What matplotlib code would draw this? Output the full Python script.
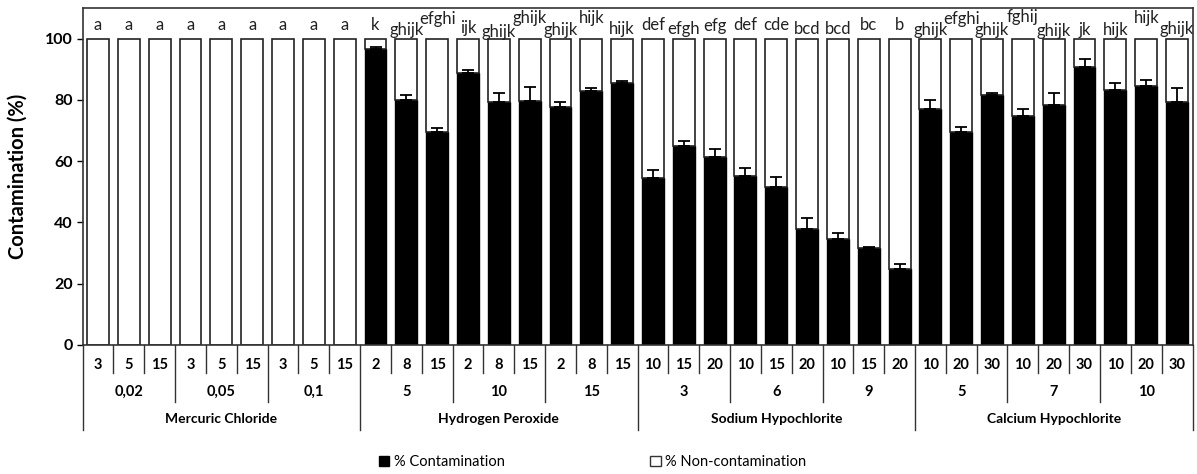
import numpy as np
import matplotlib
matplotlib.use("Agg")
import matplotlib.pyplot as plt
from matplotlib.patches import Patch

plt.rcParams['font.family'] = ['Lato', 'DejaVu Sans']

# data
contam = [0, 0, 0, 0, 0, 0, 0, 0, 0,
          96.6, 80.0, 69.5, 88.8, 79.3, 79.7, 77.7, 82.8, 85.4,
          54.5, 65.1, 61.3, 55.3, 51.5, 38.0, 34.7, 31.6, 24.7,
          77.0, 69.4, 81.6, 74.7, 78.5, 90.7, 83.1, 84.6, 79.3]
err = [0, 0, 0, 0, 0, 0, 0, 0, 0,
       0.7, 1.6, 1.4, 1.1, 3.1, 4.5, 1.5, 1.0, 0.8,
       2.6, 1.5, 2.7, 2.5, 3.3, 3.4, 1.8, 0.5, 1.8,
       3.1, 1.7, 0.8, 2.3, 3.9, 2.5, 2.3, 1.9, 4.5]
letters = ["a"] * 9 + ["k", "ghijk", "efghi", "ijk", "ghijk", "ghijk", "ghijk", "hijk", "hijk",
                       "def", "efgh", "efg", "def", "cde", "bcd", "bcd", "bc", "b",
                       "ghijk", "efghi", "ghijk", "fghij", "ghijk", "jk", "hijk", "hijk", "ghijk"]
times = ["3", "5", "15"] * 3 + ["2", "8", "15"] * 3 + ["10", "15", "20"] * 3 + ["10", "20", "30"] * 3
concs = ["0,02", "0,05", "0,1", "5", "10", "15", "3", "6", "9", "5", "7", "10"]
agents = ["Mercuric Chloride", "Hydrogen Peroxide", "Sodium Hypochlorite", "Calcium Hypochlorite"]

# letter heights (staggered to avoid overlaps)
letter_y = [104.6] * 9 + [104.6, 102.9, 106.5, 103.6, 102.3, 106.9, 102.9, 106.9, 103.3,
                          104.6, 103.3, 104.2, 104.6, 104.6, 103.3, 103.3, 104.6, 104.6,
                          102.9, 106.5, 102.9, 107.2, 102.6, 102.9, 102.9, 106.9, 103.3]

n = len(contam)
x = np.arange(n)
contam = np.array(contam)
non = 100 - contam

fig = plt.figure(figsize=(11.97, 4.74), dpi=100)
ax = fig.add_axes([0.0693, 0.2722, 0.9274, 0.7109])

ax.bar(x, contam, width=0.71, color="black", edgecolor="black", linewidth=1.0,
       label="% Contamination")
ax.bar(x, non, bottom=contam, width=0.71, color="white", edgecolor="#222222", linewidth=1.2,
       label="% Non-contamination")
mask = contam > 0
ax.errorbar(x[mask], contam[mask], yerr=[np.zeros(mask.sum()), np.array(err)[mask]],
            fmt="none", ecolor="black", elinewidth=1.3, capsize=4, capthick=1.3)

for xi, lab, ly in zip(x, letters, letter_y):
    ax.text(xi, ly, lab, ha="center", va="center", fontsize=12, color="#222222")

ax.set_xlim(-0.49, 35.52)
ax.set_ylim(0, 110)
ax.set_yticks([0, 20, 40, 60, 80, 100])
ax.tick_params(axis="y", labelsize=11.5, width=1, length=4)
for t in ax.get_yticklabels():
    t.set_fontweight("bold")
ax.set_xticks([])
ax.set_ylabel("Contamination (%)", fontsize=14.5, fontweight="bold", labelpad=12)
for s in ax.spines.values():
    s.set_color("#333333")
    s.set_linewidth(1.2)

# multi-level category axis
trans = ax.get_xaxis_transform()
for i, t in enumerate(times):
    ax.text(i, -0.059, t, transform=trans, ha="center", va="center",
            fontsize=10.5, fontweight="bold")
for j, c in enumerate(concs):
    ax.text(3 * j + 1, -0.139, c, transform=trans, ha="center", va="center",
            fontsize=10.5, fontweight="bold")
for k, a in enumerate(agents):
    ax.text(9 * k + 4, -0.220, a, transform=trans, ha="center", va="center",
            fontsize=10, fontweight="bold")

for b in range(n + 1):
    xb = b - 0.5
    if b % 9 == 0:
        y1 = -0.252
    elif b % 3 == 0:
        y1 = -0.169
    else:
        y1 = -0.083
    if b == n:
        xb = 35.52
    if b == 0:
        xb = -0.49
    ax.plot([xb, xb], [0, y1], transform=trans, color="#333333", lw=1.0, clip_on=False)

handles = [Patch(facecolor="black", edgecolor="black"),
           Patch(facecolor="white", edgecolor="#333333")]
fig.legend(handles, ["% Contamination", "% Non-contamination"], loc="center",
           bbox_to_anchor=(0.495, 0.025), ncol=2, frameon=False, fontsize=10.5,
           handlelength=0.7, handleheight=0.7, handletextpad=0.3, columnspacing=10)

fig.savefig("out.png", dpi=100)
